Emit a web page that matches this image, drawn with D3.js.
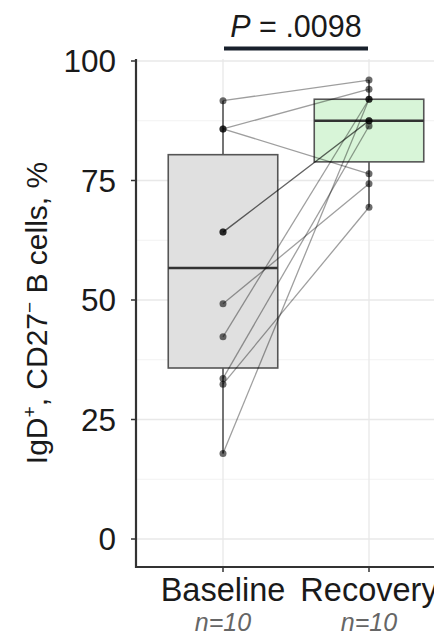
<!DOCTYPE html>
<html><head><meta charset="utf-8">
<script src="https://cdn.jsdelivr.net/npm/d3@7"></script>
<style>
html,body{margin:0;padding:0;background:#fff;overflow:hidden;}
svg{display:block;font-family:"Liberation Sans",Arial,sans-serif;}
</style></head>
<body>
<svg id="chart" width="434" height="635"></svg>
<script>
// ---- data ----
const categories = ["Baseline", "Recovery"];
const baselineValues = [91.7, 85.8, 85.8, 64.2, 64.2, 49.2, 42.3, 33.6, 32.4, 17.9];
const recoveryValues = [96.0, 94.1, 76.4, 87.5, 87.5, 74.3, 92.0, 86.4, 69.4, 92.0];
const groupCounts = ["n=10", "n=10"];
const yTicks = [0, 25, 50, 75, 100];
const yMinorTicks = [12.5, 37.5, 62.5, 87.5];
const boxFills = ["#e0e0e0", "#d8f5d8"];
const pLabel = ".0098";

const svg = d3.select("#chart");
const W = 434, H = 635;
const panel = {left: 136, top: 59, bottom: 567, right: 460};

const x = d3.scaleBand().domain(categories).range([150, 442]);
const y = d3.scaleLinear().domain([0, 100]).range([539, 61]);
const cx = c => x(c) + x.bandwidth() / 2;

// gridlines
const grid = svg.append("g");
grid.selectAll(".minor").data(yMinorTicks).enter().append("line")
  .attr("x1", panel.left).attr("x2", W).attr("y1", d => y(d)).attr("y2", d => y(d))
  .attr("stroke", "#f2f2f2").attr("stroke-width", 1);
grid.selectAll(".major").data(yTicks).enter().append("line")
  .attr("x1", panel.left).attr("x2", W).attr("y1", d => y(d)).attr("y2", d => y(d))
  .attr("stroke", "#e8e8e8").attr("stroke-width", 1.3);
grid.selectAll(".vx").data(categories).enter().append("line")
  .attr("x1", d => cx(d)).attr("x2", d => cx(d)).attr("y1", panel.top).attr("y2", panel.bottom)
  .attr("stroke", "#e8e8e8").attr("stroke-width", 1.3);

// boxplots
const groups = [baselineValues, recoveryValues];
const boxW = x.bandwidth() * 0.75;
groups.forEach((vals, i) => {
  const s = vals.slice().sort(d3.ascending);
  const q1 = d3.quantile(s, 0.25), med = d3.quantile(s, 0.5), q3 = d3.quantile(s, 0.75);
  const iqr = q3 - q1;
  const lo = d3.min(s.filter(v => v >= q1 - 1.5 * iqr));
  const hi = d3.max(s.filter(v => v <= q3 + 1.5 * iqr));
  const c = cx(categories[i]);
  const g = svg.append("g");
  g.append("line").attr("x1", c).attr("x2", c).attr("y1", y(q3)).attr("y2", y(hi))
    .attr("stroke", "#555").attr("stroke-width", 1.6);
  g.append("line").attr("x1", c).attr("x2", c).attr("y1", y(q1)).attr("y2", y(lo))
    .attr("stroke", "#555").attr("stroke-width", 1.6);
  g.append("rect").attr("x", c - boxW / 2).attr("width", boxW)
    .attr("y", y(q3)).attr("height", y(q1) - y(q3))
    .attr("fill", boxFills[i]).attr("stroke", "#555").attr("stroke-width", 1.6);
  g.append("line").attr("x1", c - boxW / 2).attr("x2", c + boxW / 2)
    .attr("y1", y(med)).attr("y2", y(med))
    .attr("stroke", "#333").attr("stroke-width", 2.6);
});

// paired lines
const pairs = baselineValues.map((b, i) => [b, recoveryValues[i]]);
svg.append("g").selectAll("line").data(pairs).enter().append("line")
  .attr("x1", cx(categories[0])).attr("x2", cx(categories[1]))
  .attr("y1", d => y(d[0])).attr("y2", d => y(d[1]))
  .attr("stroke", "#000").attr("stroke-opacity", 0.38).attr("stroke-width", 1.3);

// points
groups.forEach((vals, i) => {
  svg.append("g").selectAll("circle").data(vals).enter().append("circle")
    .attr("cx", cx(categories[i])).attr("cy", d => y(d)).attr("r", 3.5)
    .attr("fill", "#000").attr("fill-opacity", 0.58);
});

// axes lines
svg.append("line").attr("x1", panel.left).attr("x2", panel.left)
  .attr("y1", panel.top).attr("y2", panel.bottom + 1)
  .attr("stroke", "#333").attr("stroke-width", 2.2);
svg.append("line").attr("x1", panel.left - 1).attr("x2", W)
  .attr("y1", panel.bottom).attr("y2", panel.bottom)
  .attr("stroke", "#333").attr("stroke-width", 2.2);

// y ticks
const yt = svg.append("g");
yt.selectAll("line").data(yTicks).enter().append("line")
  .attr("x1", panel.left - 5).attr("x2", panel.left).attr("y1", d => y(d)).attr("y2", d => y(d))
  .attr("stroke", "#333").attr("stroke-width", 1.5);
yt.selectAll("text").data(yTicks).enter().append("text")
  .attr("x", 116).attr("y", d => y(d)).attr("dy", "0.36em")
  .attr("text-anchor", "end").attr("font-size", 31.5).attr("fill", "#1a1a1a")
  .text(d => d);

// x ticks
const xt = svg.append("g");
xt.selectAll("line").data(categories).enter().append("line")
  .attr("x1", d => cx(d)).attr("x2", d => cx(d)).attr("y1", panel.bottom).attr("y2", panel.bottom + 5)
  .attr("stroke", "#333").attr("stroke-width", 1.5);
xt.selectAll("text.cat").data(categories).enter().append("text")
  .attr("x", d => cx(d)).attr("y", 601).attr("text-anchor", "middle")
  .attr("font-size", 32.5).attr("fill", "#1a1a1a").text(d => d);
xt.selectAll("text.n").data(categories).enter().append("text")
  .attr("x", d => cx(d)).attr("y", 631).attr("text-anchor", "middle")
  .attr("font-size", 25).attr("font-style", "italic").attr("fill", "#666")
  .text((d, i) => groupCounts[i]);

// y label
const yl = svg.append("text")
  .attr("transform", "translate(47," + ((y(0) + y(100)) / 2 + 13) + ") rotate(-90)")
  .attr("text-anchor", "middle").attr("font-size", 30).attr("fill", "#1a1a1a");
yl.append("tspan").text("IgD");
yl.append("tspan").attr("dy", -11).attr("font-size", 19).text("+");
yl.append("tspan").attr("dy", 11).text(", CD27");
yl.append("tspan").attr("dy", -11).attr("font-size", 19).text("\u2212");
yl.append("tspan").attr("dy", 11).text(" B cells, %");

// significance bar
svg.append("line").attr("x1", cx(categories[0]) + 1).attr("x2", cx(categories[1]) - 1)
  .attr("y1", 48.5).attr("y2", 48.5).attr("stroke", "#18202c").attr("stroke-width", 4);
const pt = svg.append("text").attr("x", (cx(categories[0]) + cx(categories[1])) / 2).attr("y", 37)
  .attr("text-anchor", "middle").attr("font-size", 30.5).attr("fill", "#1a1a1a");
pt.append("tspan").attr("font-style", "italic").text("P");
pt.append("tspan").text(" = " + pLabel);
</script>
</body></html>
